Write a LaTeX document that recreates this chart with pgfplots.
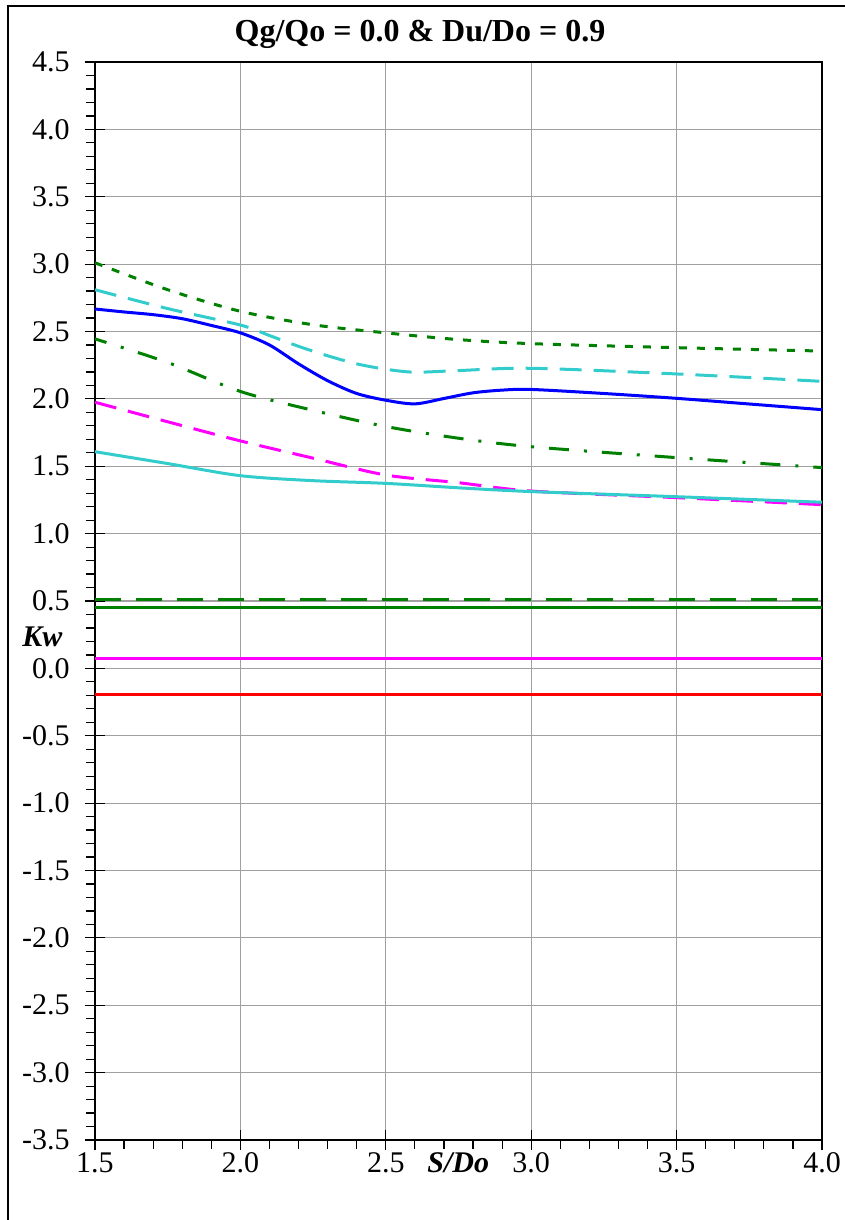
\documentclass[border=0pt]{standalone}
\usepackage{pgfplots}
\pgfplotsset{compat=1.18}
\usepackage{fontspec}
\setmainfont{Liberation Serif}
\definecolor{dgreen}{RGB}{0,128,0}
\definecolor{turq}{RGB}{51,204,204}
\definecolor{magen}{RGB}{255,0,255}
\definecolor{bblue}{RGB}{0,0,255}
\definecolor{rred}{RGB}{255,0,0}
\definecolor{gridgray}{RGB}{160,160,160}
\begin{document}
\begin{tikzpicture}
\path[use as bounding box] (-47.5pt,-40pt) rectangle (375pt,570pt);
\draw[line width=1pt] (-43.5pt,-45pt) -- (-43.5pt,567pt) -- (380pt,567pt);
\begin{axis}[
  at={(0pt,0pt)}, anchor=south west,
  scale only axis, width=363.5pt, height=539pt,
  xmin=1.5, xmax=4.0, ymin=-3.5, ymax=4.5,
  xtick={1.5,2.0,2.5,3.0,3.5,4.0},
  ytick={-3.5,-3.0,-2.5,-2.0,-1.5,-1.0,-0.5,0.0,0.5,1.0,1.5,2.0,2.5,3.0,3.5,4.0,4.5},
  minor x tick num=4, minor y tick num=4,
  grid=major, major grid style={gridgray, line width=0.6pt},
  axis line style={line width=1.2pt},
  tick pos=left,
  tick align=center,
  major tick length=10pt,
  minor tick length=4.5pt,
  tick style={black, line width=0.6pt},
  minor x tick style={yshift=-2.25pt},
  minor y tick style={xshift=-2.25pt},
  /pgf/number format/assume math mode=true,
  /pgf/number format/.cd, fixed, fixed zerofill, precision=1, /pgfplots/.cd,
  ticklabel style={font=\fontsize{15}{18}\selectfont, inner sep=0pt},
  yticklabel style={anchor=east, xshift=-7.5pt},
  xticklabel style={anchor=base, yshift=-11pt},
  xlabel={\textbf{\textit{S/Do}}},
  xlabel style={font=\fontsize{15}{18}\selectfont, at={(axis description cs:0.4567,-0.0297)}, anchor=base west, inner sep=0pt},
  ylabel={\textbf{\textit{Kw}}},
  ylabel style={font=\fontsize{15}{18}\selectfont, rotate=-90, at={(axis description cs:-0.1004,0.4574)}, anchor=base west, inner sep=0pt},
  title={\textbf{Qg/Qo = 0.0 \& Du/Do = 0.9}},
  title style={font=\fontsize{16}{19}\selectfont, at={(axis description cs:0.447,1.0083)}, anchor=base, inner sep=0pt},
  every axis plot/.append style={line width=1.5pt},
]
% green dotted
\addplot[dgreen, smooth, dash pattern=on 4pt off 5pt] coordinates {
(1.5,3.01) (1.75,2.81) (2.0,2.65) (2.25,2.55) (2.5,2.49) (2.75,2.44) (3.0,2.41) (3.5,2.38) (4.0,2.355)};
% turquoise dashed
\addplot[turq, smooth, dash pattern=on 11pt off 6pt] coordinates {
(1.5,2.81) (1.75,2.67) (2.0,2.548) (2.1,2.47) (2.2,2.39) (2.3,2.32) (2.4,2.26) (2.5,2.22) (2.6,2.198) (2.75,2.21) (3.0,2.227) (3.5,2.185) (4.0,2.13)};
% blue solid
\addplot[bblue, smooth] coordinates {
(1.5,2.667) (1.6,2.645) (1.7,2.625) (1.8,2.595) (1.9,2.545) (2.0,2.49) (2.1,2.40) (2.2,2.26) (2.3,2.135) (2.4,2.04) (2.5,1.99) (2.6,1.963) (2.7,2.003) (2.8,2.045) (2.9,2.065) (3.0,2.07) (3.25,2.04) (3.5,2.004) (3.75,1.962) (4.0,1.92)};
% green dash-dot
\addplot[dgreen, smooth, dash pattern=on 10pt off 7.5pt on 1.5pt off 7.5pt, dash phase=4pt] coordinates {
(1.5,2.445) (1.75,2.27) (2.0,2.055) (2.25,1.915) (2.5,1.795) (2.75,1.708) (3.0,1.645) (3.5,1.564) (4.0,1.49)};
% magenta dashed
\addplot[magen, smooth, dash pattern=on 11pt off 6pt] coordinates {
(1.5,1.975) (1.75,1.83) (2.0,1.688) (2.25,1.56) (2.5,1.435) (2.75,1.378) (3.0,1.316) (3.5,1.267) (4.0,1.215)};
% turquoise solid
\addplot[turq, smooth] coordinates {
(1.5,1.608) (1.75,1.52) (2.0,1.43) (2.25,1.393) (2.5,1.373) (2.75,1.34) (3.0,1.312) (3.5,1.274) (4.0,1.233)};
% horizontal lines
\addplot[dgreen, dash pattern=on 13pt off 7.5pt] coordinates {(1.5,0.51) (4.0,0.51)};
\addplot[dgreen] coordinates {(1.5,0.45) (4.0,0.45)};
\addplot[magen] coordinates {(1.5,0.07) (4.0,0.07)};
\addplot[rred] coordinates {(1.5,-0.195) (4.0,-0.195)};
\end{axis}
\end{tikzpicture}
\end{document}
